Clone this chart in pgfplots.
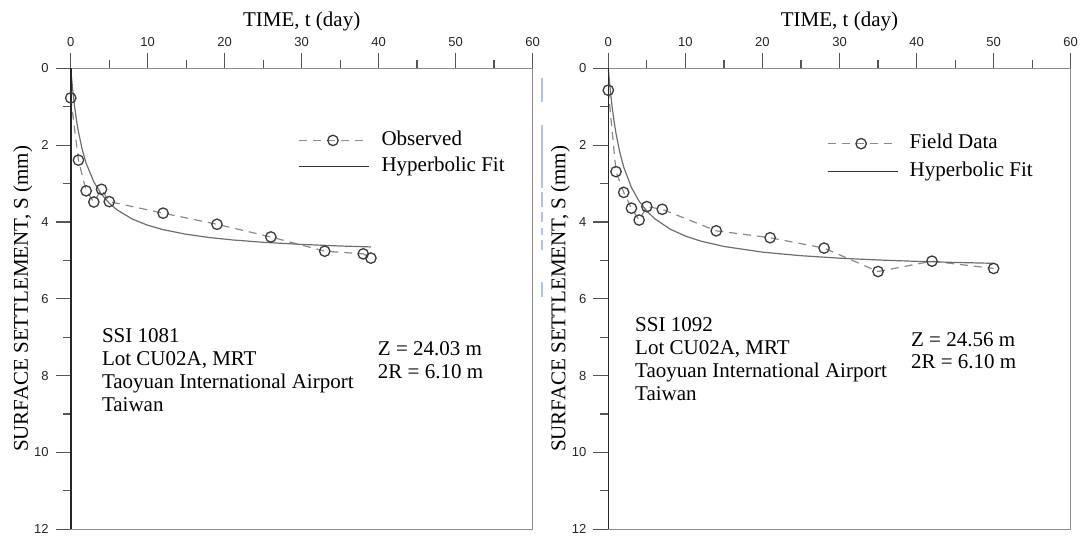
\documentclass[border=0pt]{standalone}
\usepackage{fontspec}
\setmainfont{Liberation Serif}
\setsansfont{Liberation Sans}
\usepackage{pgfplots}
\pgfplotsset{compat=1.18}

\definecolor{spine}{HTML}{8C8C8C}
\definecolor{tickc}{HTML}{555555}
\definecolor{obsline}{HTML}{8A8A8A}
\definecolor{fitline}{HTML}{6E6E6E}
\definecolor{markc}{HTML}{3A3A3A}
\definecolor{guide}{HTML}{B3C3E3}

% multi-line notes: anchored at the baseline of their last line
\tikzset{note/.style={anchor=base west, align=left, inner sep=0pt}}

\pgfplotsset{
  settle/.style={
    scale only axis,
    width=230.9pt, height=230.5pt,
    xmin=0, xmax=60, ymin=0, ymax=12,
    y dir=reverse,
    clip=false,
    xtick={0,10,...,60}, ytick={0,2,...,12},
    minor x tick num=1, minor y tick num=1,
    xtick pos=top, xticklabel pos=top,
    ytick pos=left, yticklabel pos=left,
    tick align=outside,
    major tick length=7.5pt, minor tick length=4pt,
    every tick/.style={tickc, line width=0.6pt},
    axis line style={spine, line width=0.7pt},
    ticklabel style={font=\sffamily\fontsize{6.5}{7}\selectfont, text=black!85},
    /pgf/number format/assume math mode=true,
    label style={font=\fontsize{10.5}{12}\selectfont},
    xlabel={TIME, t (day)},
    ylabel={SURFACE SETTLEMENT, S (mm)},
    xlabel style={at={(axis description cs:0.5,1.1026)}, anchor=center},
    ylabel style={at={(axis description cs:-0.104,0.5)}, anchor=center},
    legend cell align=left,
    legend style={draw=none, fill=none, inner sep=0pt, outer sep=0pt,
      font=\fontsize{10.5}{12}\selectfont, row sep=3.5pt, column sep=5.75pt,
      nodes={inner sep=0pt, text height=7.3pt, text depth=2.3pt}},
  },
  obs/.style={obsline, line width=0.6pt, dash pattern=on 4pt off 3pt,
    mark=o, mark size=2.6pt, mark options={solid, markc, line width=0.65pt},
    legend image code/.code={%
      \draw[mark repeat=2,mark phase=2,##1] plot coordinates {(0pt,0pt) (16.75pt,0pt) (33.5pt,0pt)};}},
  fit/.style={fitline, line width=0.6pt,
    legend image code/.code={%
      \draw[##1, black!80] (0pt,0pt) -- (35pt,0pt);}},
}

\begin{document}
\begin{tikzpicture}
\useasboundingbox (0,0) rectangle (541pt,-268.5pt);

% left panel: SSI 1081
\begin{axis}[settle, at={(150.825pt,-149.4pt)}, anchor=center,
  legend style={at={(axis description cs:0.494,0.8152)}, anchor=west}]
\addplot[obs] coordinates {
  (0,0.77) (1,2.39) (2,3.19) (3,3.48) (4,3.15) (5,3.47)
  (12,3.77) (19,4.06) (26,4.39) (33,4.76) (38,4.83) (39,4.94)};
\addlegendentry{Observed}
\addplot[fit] coordinates {
  (0,0) (0.05,0.122) (0.1,0.238) (0.25,0.554) (0.5,0.995) (0.75,1.355)
  (1,1.653) (1.5,2.121) (2,2.470) (3,2.957) (4,3.281) (5,3.511)
  (6,3.684) (8,3.925) (10,4.085) (12,4.199) (15,4.320) (18,4.405)
  (21,4.467) (25,4.529) (30,4.584) (35,4.625) (39,4.650)};
\addlegendentry{Hyperbolic Fit}
\draw[black!85, line width=0.8pt] (axis description cs:0,0) -- (axis description cs:0,1);
\node[note, font=\fontsize{10.5}{11.5}\selectfont] at (axis description cs:0.0668,0.2566)
  {SSI 1081\\Lot CU02A, MRT\\Taoyuan International Airport\\Taiwan};
\node[note, font=\fontsize{10.5}{11.7}\selectfont] at (axis description cs:0.6644,0.3267)
  {Z = 24.03 m\\2R = 6.10 m};
\end{axis}

% right panel: SSI 1092
\begin{axis}[settle, width=231.2pt, at={(419.75pt,-149.4pt)}, anchor=center,
  legend style={at={(axis description cs:0.473,0.8065)}, anchor=west, row sep=4.25pt}]
\addplot[obs] coordinates {
  (0,0.57) (1,2.69) (2,3.23) (3,3.64) (4,3.95) (5,3.60) (7,3.67)
  (14,4.23) (21,4.41) (28,4.68) (35,5.29) (42,5.02) (50,5.21)};
\addlegendentry{Field Data}
\addplot[fit] coordinates {
  (0,0) (0.05,0.122) (0.1,0.239) (0.25,0.559) (0.5,1.011) (0.75,1.384)
  (1,1.698) (1.5,2.195) (2,2.571) (3,3.102) (4,3.460) (5,3.717)
  (6,3.911) (8,4.184) (10,4.367) (12,4.498) (15,4.637) (20,4.785)
  (25,4.878) (30,4.942) (35,4.989) (40,5.025) (45,5.053) (50,5.076)};
\addlegendentry{Hyperbolic Fit}
\draw[black!85, line width=0.8pt] (axis description cs:0,0) -- (axis description cs:0,1);
\node[note, font=\fontsize{10.5}{11.35}\selectfont] at (axis description cs:0.0573,0.2805)
  {SSI 1092\\Lot CU02A, MRT\\Taoyuan International Airport\\Taiwan};
\node[note, font=\fontsize{10.5}{11.0}\selectfont] at (axis description cs:0.654,0.3484)
  {Z = 24.56 m\\2R = 6.10 m};
\end{axis}

% light blue guide between the panels
\begin{scope}[guide, line width=1.2pt]
  \draw (270.85pt,-39pt) -- (270.85pt,-51pt);
  \draw (270.85pt,-62.5pt) -- (270.85pt,-94pt);
  \draw (270.85pt,-96pt) -- (270.85pt,-103.5pt);
  \draw (270.85pt,-106pt) -- (270.85pt,-111pt);
  \draw (270.85pt,-114pt) -- (270.85pt,-117.5pt);
  \draw (270.85pt,-120pt) -- (270.85pt,-125pt);
  \draw (270.85pt,-141pt) -- (270.85pt,-148.5pt);
\end{scope}
\end{tikzpicture}
\end{document}
